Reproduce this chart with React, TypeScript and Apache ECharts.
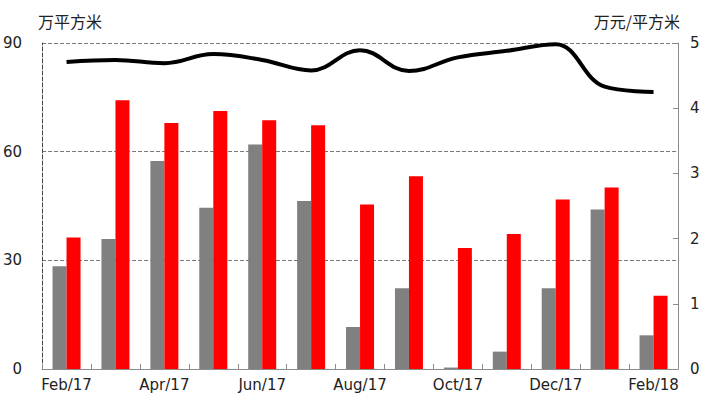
import React, { useEffect, useRef } from "react";
import * as echarts from "echarts";

const categories = [
  "Feb/17", "Mar/17", "Apr/17", "May/17", "Jun/17", "Jul/17", "Aug/17",
  "Sep/17", "Oct/17", "Nov/17", "Dec/17", "Jan/18", "Feb/18",
];
const graySeries = [28.4, 35.9, 57.4, 44.5, 62.0, 46.4, 11.6, 22.3, 0.4, 4.8, 22.3, 44.0, 9.3];
const redSeries = [36.3, 74.2, 67.9, 71.2, 68.7, 67.3, 45.4, 53.2, 33.4, 37.3, 46.8, 50.1, 20.2];
const priceSeries = [4.71, 4.74, 4.69, 4.83, 4.74, 4.58, 4.89, 4.57, 4.78, 4.88, 4.98, 4.33, 4.25];
const leftTicks = { min: 0, max: 90, interval: 30 };
const rightTicks = { min: 0, max: 5, interval: 1 };
const leftUnit = "万平方米";
const rightUnit = "万元/平方米";

const FONT = "DejaVu Sans";
const CJK = "Noto Sans CJK SC";

export default function App() {
  const ref = useRef<HTMLDivElement>(null);
  useEffect(() => {
    if (!ref.current) return;
    const chart = echarts.init(ref.current, undefined, { renderer: "svg" });
    chart.setOption({
      animation: false,
      grid: { left: 40, right: 30, top: 43, bottom: 28, containLabel: false },
      xAxis: {
        type: "category",
        data: categories,
        boundaryGap: true,
        axisLine: { show: true, lineStyle: { color: "#8c8c8c", width: 1 } },
        axisTick: { show: true, inside: true, length: 5, interval: 0, alignWithLabel: false, lineStyle: { color: "#8c8c8c" } },
        axisLabel: { interval: 1, margin: 8, color: "#222", fontSize: 15, fontFamily: FONT },
        splitLine: { show: false },
      },
      yAxis: [
        {
          type: "value",
          min: leftTicks.min,
          max: leftTicks.max,
          interval: leftTicks.interval,
          name: leftUnit,
          nameLocation: "end",
          nameGap: 14,
          nameTextStyle: { fontFamily: CJK, fontSize: 16, color: "#222", align: "left", padding: [0, 0, 0, -4] },
          axisLine: { show: true, lineStyle: { color: "#444", type: "dashed", width: 1 } },
          axisTick: { show: false },
          axisLabel: { margin: 20, color: "#222", fontSize: 15, fontFamily: FONT },
          splitLine: { show: true, lineStyle: { color: "#777", type: "dashed", width: 1 } },
        },
        {
          type: "value",
          position: "right",
          min: rightTicks.min,
          max: rightTicks.max,
          interval: rightTicks.interval,
          name: rightUnit,
          nameLocation: "end",
          nameGap: 14,
          nameTextStyle: { fontFamily: CJK, fontSize: 16, color: "#222", align: "right", padding: [0, -2, 0, 0] },
          axisLine: { show: true, lineStyle: { color: "#8c8c8c", width: 1 } },
          axisTick: { show: true, inside: true, length: 5, lineStyle: { color: "#8c8c8c" } },
          axisLabel: { margin: 12, color: "#222", fontSize: 15, fontFamily: FONT },
          splitLine: { show: false },
        },
      ],
      series: [
        {
          type: "bar",
          data: graySeries,
          yAxisIndex: 0,
          barWidth: 14,
          barGap: "0%",
          itemStyle: { color: "#808080" },
        },
        {
          type: "bar",
          data: redSeries,
          yAxisIndex: 0,
          barWidth: 14,
          barGap: "0%",
          itemStyle: { color: "#ff0000" },
        },
        {
          type: "line",
          data: priceSeries,
          yAxisIndex: 1,
          smooth: 0.4,
          symbol: "none",
          lineStyle: { color: "#000", width: 4 },
        },
      ],
    });
    return () => chart.dispose();
  }, []);
  return <div ref={ref} style={{ width: 708, height: 397, position: "absolute", left: 0, top: 0 }} />;
}
